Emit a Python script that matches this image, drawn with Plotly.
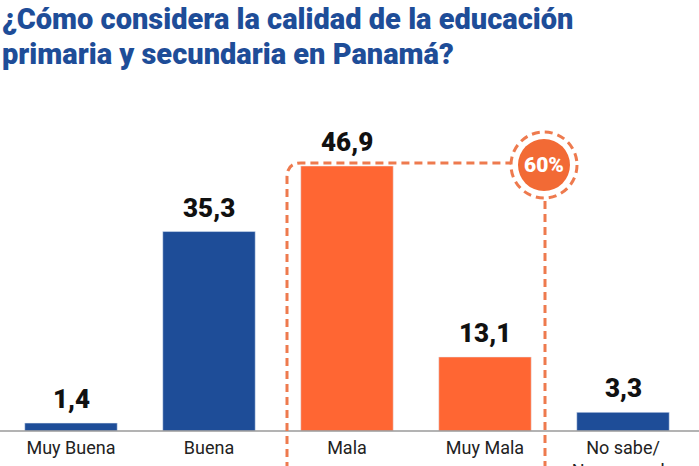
import plotly.graph_objects as go

categories = ["Muy Buena", "Buena", "Mala", "Muy Mala", "No sabe/<br>No responde"]
values = [1.4, 35.3, 46.9, 13.1, 3.3]
colors = ["#1E4D98", "#1E4D98", "#FF6633", "#FF6633", "#1E4D98"]
highlight_text = "60%"
title_lines = ["¿Cómo considera la calidad de la educación",
               "primaria y secundaria en Panamá?"]

W, H = 699, 466
L, R, T, B = 2, 7, 92, 35
YMAX = 60.0
pw, ph = W - L - R, H - T - B

def px(x):
    return (x - L) / pw

def py(y):
    return (H - B - y) / ph

fig = go.Figure()
fig.add_trace(go.Bar(x=categories, y=values, marker_color=colors, width=0.67,
                     hoverinfo="skip"))

for c, v in zip(categories, values):
    fig.add_annotation(x=c, y=v, text=f"{v:.1f}".replace(".", ","),
                       showarrow=False, yanchor="bottom", yshift=7,
                       font=dict(size=26, color="#111111", family="Roboto", weight=900))

dash_col = "#EE7A4E"
dash_pat = "8px,5px"
# baseline
fig.add_shape(type="line", xref="paper", yref="paper", x0=px(0), x1=px(W), y0=0, y1=0,
              line=dict(color="#9A9A9A", width=1.5))
# rounded dashed bracket
path = (f"M {px(287)},{py(470)} L {px(287)},{py(177)} "
        f"Q {px(287)},{py(163)} {px(301)},{py(163)} L {px(511)},{py(163)}")
fig.add_shape(type="path", xref="paper", yref="paper", path=path,
              line=dict(color=dash_col, width=3, dash=dash_pat))
cx, cy = 544, 165
fig.add_shape(type="circle", xref="paper", yref="paper",
              x0=px(cx - 33), x1=px(cx + 33), y0=py(cy + 33), y1=py(cy - 33),
              line=dict(color=dash_col, width=3, dash=dash_pat))
fig.add_shape(type="circle", xref="paper", yref="paper",
              x0=px(cx - 26), x1=px(cx + 26), y0=py(cy + 26), y1=py(cy - 26),
              line=dict(width=0), fillcolor="#F26A35")
fig.add_shape(type="line", xref="paper", yref="paper",
              x0=px(cx + 1), x1=px(cx + 1), y0=py(cy + 36), y1=py(470),
              line=dict(color=dash_col, width=3, dash=dash_pat))
fig.add_annotation(xref="paper", yref="paper", x=px(cx), y=py(cy), text=highlight_text,
                   xanchor="center", yanchor="middle",
                   showarrow=False, font=dict(size=21, color="white", family="Roboto", weight=900))

for i, line in enumerate(title_lines):
    fig.add_annotation(xref="paper", yref="paper", x=px(0), y=py(19 + 35 * i),
                       xanchor="left", yanchor="middle", showarrow=False,
                       text=line,
                       font=dict(size=29, color="#1E4D98", family="Roboto", weight=900))

fig.update_layout(
    width=W, height=H, margin=dict(l=L, r=R, t=T, b=B),
    paper_bgcolor="white", plot_bgcolor="white",
    showlegend=False,
    xaxis=dict(showgrid=False, showline=False, ticks="", automargin=False,
               ticklabelstandoff=4,
               tickfont=dict(size=18, color="#222222", family="Roboto")),
    yaxis=dict(range=[0, YMAX], visible=False, automargin=False),
    bargap=0.33,
)
fig.write_html("out.html")
